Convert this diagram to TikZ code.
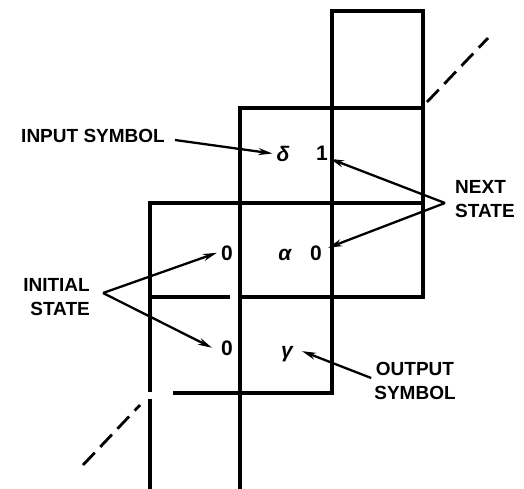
\documentclass[tikz,border=0pt]{standalone}
\usepackage{fontspec}
\setmainfont{Liberation Sans}
\usetikzlibrary{arrows.meta, positioning}

\begin{document}
\begin{tikzpicture}[
    x=1pt, y=-1pt,
    >={Stealth[length=14pt, width=7pt]},
    wall/.style={line width=3.2pt, line cap=rect},
    lbl/.style={font=\fontsize{19}{24}\selectfont\bfseries, inner sep=0pt},
    sym/.style={font=\fontsize{21}{24}\selectfont\bfseries, inner sep=1pt, anchor=base},
    greek/.style={sym, font=\fontsize{21}{24}\selectfont\bfseries\itshape},
    ptr/.style={->, line width=2.3pt},
    cont/.style={line width=2.8pt, dash pattern=on 17pt off 8pt},
]
  \useasboundingbox (0,0) rectangle (524,488);

  % tape cells
  \foreach \xa/\ya/\xb/\yb in {332/11/423/11, 423/11/423/297, 240/108/423/108,
      150/203/423/203, 240/297/423/297, 150/297/228/297, 175/393/332/393,
      332/11/332/393, 240/108/240/488, 150/203/150/390, 150/401/150/488}
    \draw[wall] (\xa,\ya) -- (\xb,\yb);

  % continuation marks
  \draw[cont] (427,102) -- (488,38);
  \draw[cont] (83,465) -- (140,405);

  % cell contents
  \node[greek] (dl) at (283,161) {δ};
  \node[sym] (nx1) at (322,160) {1};
  \node[sym] (in1) at (227,260) {0};
  \node[greek] (al) at (285,260) {α};
  \node[sym] (nx2) at (316,260) {0};
  \node[sym] (in2) at (227,355) {0};
  \node[greek] (gm) at (287,357) {γ};

  % labels
  \node[lbl, anchor=east] (inp) at (165,136) {INPUT SYMBOL};
  \node[lbl, anchor=west, align=left] (nxt) at (455,199) {NEXT\\STATE};
  \node[lbl, anchor=east, align=right] (ini) at (90,297) {INITIAL\\STATE};
  \node[lbl, align=center] (outp) at (415,381) {OUTPUT\\SYMBOL};

  \coordinate (iniv) at ([xshift=13pt, yshift=4pt]ini.east);
  \coordinate (nxtv) at ([xshift=-10pt, yshift=-4pt]nxt.west);

  \draw[ptr] ([xshift=10pt, yshift=-4pt]inp.east) -- ([xshift=-3pt]dl.west);
  \draw[ptr] (nxtv) -- ([xshift=1pt, yshift=-6pt]nx1.east);
  \draw[ptr] (nxtv) -- ([xshift=5pt, yshift=5pt]nx2.east);
  \draw[ptr] (iniv) -- ([xshift=-3pt]in1.west);
  \draw[ptr] (iniv) -- ([xshift=-8pt]in2.west);
  \draw[ptr] ([xshift=-3pt, yshift=3pt]outp.west) -- ([xshift=8pt, yshift=2.5pt]gm.east);
\end{tikzpicture}
\end{document}
